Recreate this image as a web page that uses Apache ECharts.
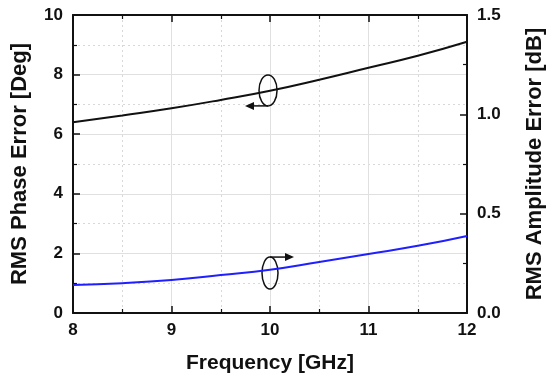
<!DOCTYPE html>
<html><head><meta charset="utf-8">
<script src="https://cdn.jsdelivr.net/npm/echarts@6/dist/echarts.min.js"></script>
<style>html,body{margin:0;padding:0;background:#fff}#c{width:550px;height:379px}</style>
</head><body><div id="c"></div>
<script>
const freq = [8, 8.5, 9, 9.5, 10, 10.5, 11, 11.5, 12];
const phaseErr = [6.4, 6.63, 6.87, 7.15, 7.46, 7.83, 8.23, 8.63, 9.1];
const ampErr = [0.141, 0.150, 0.166, 0.191, 0.218, 0.257, 0.297, 0.338, 0.388];
const xTicks = [8, 9, 10, 11, 12];
const leftTicks = [0, 2, 4, 6, 8, 10];
const rightTicks = [0.0, 0.5, 1.0, 1.5];

const chart = echarts.init(document.getElementById('c'));
const font = 'Liberation Sans, Arial, sans-serif';
const lbl = {fontFamily: font, fontWeight: 'bold', fontSize: 17, color: '#111'};
const nameStyle = {fontFamily: font, fontWeight: 'bold', fontSize: 21, color: '#111'};
const axLine = {show: true, onZero: false, lineStyle: {color: '#111', width: 2}};
const tick = {show: true, inside: true, length: 7, lineStyle: {color: '#111', width: 1.5}};
const mtick = {show: true, splitNumber: 2, length: 4, lineStyle: {color: '#111', width: 1.2}};
const split = {show: true, lineStyle: {color: '#e0e0e0', width: 1, type: 'solid'}};
const msplit = {show: true, lineStyle: {color: '#d8d8d8', width: 1, type: [2, 3]}};

chart.setOption({
  animation: false,
  grid: {left: 73, right: 83, top: 15, bottom: 66, containLabel: false, outerBoundsMode: 'none'},
  xAxis: [
    {type: 'value', min: 8, max: 12, interval: 1, position: 'bottom',
     name: 'Frequency [GHz]', nameLocation: 'middle', nameGap: 40,
     nameTextStyle: nameStyle,
     axisLine: axLine, axisTick: tick, minorTick: mtick, splitLine: split, minorSplitLine: msplit,
     axisLabel: Object.assign({margin: 9, formatter: v => xTicks.includes(v) ? String(v) : ''}, lbl)},
    {type: 'value', min: 8, max: 12, interval: 1, position: 'top',
     axisLine: axLine, axisTick: tick, minorTick: mtick, splitLine: {show: false},
     axisLabel: {show: false}}
  ],
  yAxis: [
    {type: 'value', min: 0, max: 10, interval: 2, position: 'left',
     name: 'RMS Phase Error [Deg]', nameLocation: 'middle', nameGap: 42, nameRotate: 90,
     nameTextStyle: Object.assign({}, nameStyle, {fontSize: 22}),
     axisLine: axLine, axisTick: tick, minorTick: mtick, splitLine: split, minorSplitLine: msplit,
     axisLabel: Object.assign({margin: 10, formatter: v => leftTicks.includes(v) ? String(v) : ''}, lbl)},
    {type: 'value', min: 0, max: 1.5, interval: 0.5, position: 'right',
     name: 'RMS Amplitude Error [dB]', nameLocation: 'middle', nameGap: 57, nameRotate: 90,
     nameTextStyle: Object.assign({}, nameStyle, {fontSize: 22}),
     axisLine: axLine, axisTick: tick, minorTick: mtick, splitLine: {show: false},
     axisLabel: Object.assign({margin: 10, formatter: v => v.toFixed(1)}, lbl)}
  ],
  series: [
    {type: 'line', xAxisIndex: 0, yAxisIndex: 0, data: freq.map((f, i) => [f, phaseErr[i]]),
     smooth: true, showSymbol: false, lineStyle: {color: '#111', width: 2}},
    {type: 'line', xAxisIndex: 0, yAxisIndex: 1, data: freq.map((f, i) => [f, ampErr[i]]),
     smooth: true, showSymbol: false, lineStyle: {color: '#1f1fff', width: 2}}
  ]
});

// annotation ellipses and arrows, placed via data coordinates
const p1 = chart.convertToPixel({xAxisIndex: 0, yAxisIndex: 0}, [9.98, 7.47]);
const p2 = chart.convertToPixel({xAxisIndex: 0, yAxisIndex: 1}, [10.0, 0.201]);
const st = {stroke: '#111', lineWidth: 1.5, fill: null};
function arrow(x1, y, x2) {
  const d = x2 > x1 ? 1 : -1;
  return [
    {type: 'line', shape: {x1: x1, y1: y, x2: x2 - d * 6, y2: y}, style: {stroke: '#111', lineWidth: 1.5}},
    {type: 'polygon', shape: {points: [[x2, y], [x2 - d * 9, y - 4], [x2 - d * 9, y + 4]]}, style: {fill: '#111'}}
  ];
}
chart.setOption({
  graphic: [
    {type: 'ellipse', shape: {cx: p1[0], cy: p1[1], rx: 9, ry: 15.5}, style: st},
    ...arrow(p1[0], p1[1] + 15.5, p1[0] - 23),
    {type: 'ellipse', shape: {cx: p2[0], cy: p2[1], rx: 8, ry: 16}, style: st},
    ...arrow(p2[0], p2[1] - 16, p2[0] + 24)
  ]
});
</script></body></html>
